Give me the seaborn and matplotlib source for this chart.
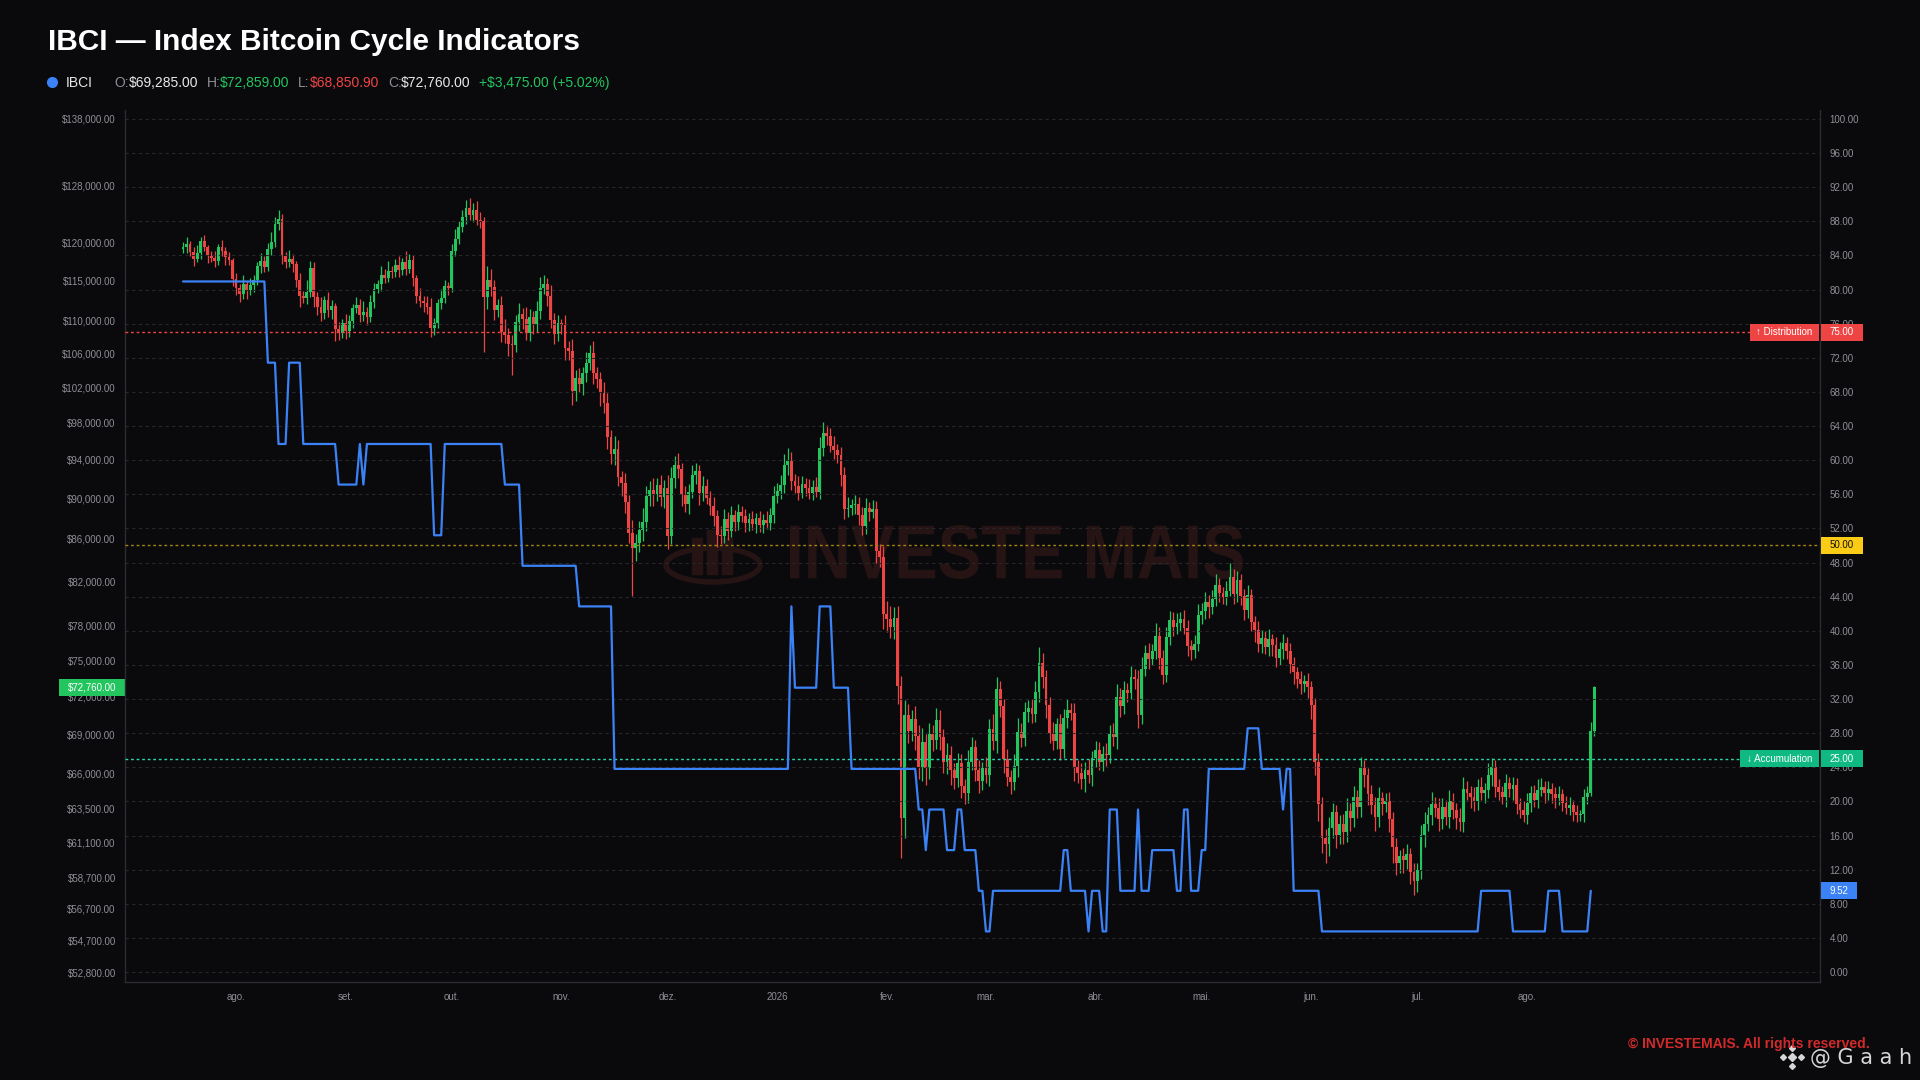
# IBCI chart - BTC candles + IBCI step line
import numpy as np
import pandas as pd
import matplotlib
matplotlib.use('Agg')
import matplotlib.pyplot as plt
import matplotlib.dates as mdates
from matplotlib.patches import Rectangle, Ellipse, PathPatch
from matplotlib.lines import Line2D
from matplotlib.textpath import TextPath
from matplotlib.font_manager import FontProperties
from matplotlib.transforms import blended_transform_factory, Affine2D
from matplotlib.ticker import FixedLocator, FixedFormatter, FuncFormatter, NullLocator
import seaborn as sns

# ---------------- data ----------------
start_date = '2025-07-17'
first_open = 119.2  # $k

# daily closes, $k
closes = [
    119.5, 119.9, 118.8, 117.8, 118.6, 120.3, 119.4, 118.3, 118.0, 117.6,
    119.4, 118.9, 118.1, 117.7, 115.2, 114.0, 113.3, 114.6, 113.8, 114.4,
    115.1, 116.9, 117.6, 116.8, 119.2, 120.1, 122.6, 123.3, 118.3, 117.4,
    117.9, 117.2, 115.1, 113.0, 112.8, 113.5, 116.6, 112.9, 111.6, 110.9,
    112.5, 111.3, 111.8, 108.9, 108.4, 109.6, 108.7, 109.9, 111.5, 111.9,
    110.6, 111.0, 110.4, 112.3, 113.9, 114.6, 115.8, 115.4, 116.3, 116.1,
    117.0, 116.4, 117.4, 116.5, 117.7, 115.3, 113.0, 112.4, 112.1, 111.6,
    109.1, 109.6, 112.2, 112.8, 114.3, 114.1, 118.9, 120.6, 122.2, 123.5,
    124.8, 123.9, 124.6, 123.2, 123.0, 112.9, 115.1, 114.2, 111.3, 111.9,
    108.5, 108.2, 107.1, 107.0, 109.8, 110.8, 110.2, 108.4, 110.4, 109.5,
    111.2, 114.1, 114.6, 113.1, 110.0, 108.3, 109.6, 109.4, 106.6, 106.2,
    101.6, 103.1, 102.4, 103.6, 104.8, 106.0, 103.6, 102.9, 101.4, 100.2,
    96.4, 94.6, 95.2, 92.2, 91.6, 89.6, 86.6, 85.1, 85.6, 86.9,
    87.6, 90.2, 90.9, 90.4, 91.4, 90.1, 91.1, 86.3, 92.1, 93.5,
    93.0, 90.3, 89.4, 90.7, 92.4, 92.8, 90.5, 91.3, 90.0, 89.2,
    88.2, 86.4, 86.3, 87.9, 86.8, 88.3, 87.6, 88.6, 88.2, 87.5,
    87.9, 87.4, 88.0, 87.3, 87.8, 87.5, 88.3, 90.2, 90.8, 91.4,
    93.4, 93.9, 91.8, 91.3, 90.6, 91.5, 91.1, 90.6, 91.2, 90.7,
    95.3, 96.9, 96.6, 95.5, 95.0, 94.5, 92.4, 88.9, 89.0, 89.3,
    89.4, 88.3, 87.2, 89.0, 88.6, 88.9, 84.8, 84.3, 79.0, 78.6,
    77.9, 78.7, 72.9, 62.8, 70.5, 69.3, 70.2, 68.9, 66.5, 68.4,
    66.4, 69.0, 68.6, 70.1, 68.8, 66.9, 67.4, 66.3, 65.7, 66.8,
    65.1, 64.6, 66.9, 68.0, 66.3, 65.5, 66.4, 65.9, 69.4, 68.5,
    72.6, 71.2, 67.1, 65.8, 65.4, 66.6, 69.2, 68.7, 70.8, 71.1,
    70.6, 72.4, 74.8, 73.6, 71.3, 69.1, 68.5, 69.8, 67.9, 70.3,
    70.9, 70.7, 66.5, 66.1, 65.6, 66.3, 65.9, 67.2, 67.8, 66.9,
    67.5, 67.4, 69.0, 68.8, 72.0, 71.2, 72.5, 72.3, 73.6, 73.4,
    70.5, 74.3, 75.6, 75.1, 75.8, 77.1, 75.2, 73.8, 77.0, 78.5,
    77.9, 78.2, 78.6, 77.8, 76.2, 75.9, 76.4, 78.9, 79.3, 80.1,
    79.6, 80.4, 81.6, 80.9, 80.5, 81.1, 82.4, 80.8, 82.1, 80.6,
    79.4, 80.7, 78.3, 77.6, 76.4, 76.9, 76.1, 76.8, 76.3, 75.2,
    76.0, 76.5, 75.8, 74.7, 74.0, 73.4, 73.0, 73.3, 72.8, 71.3,
    66.9, 63.8, 61.4, 61.0, 62.1, 63.2, 61.6, 62.4, 61.8, 63.3,
    62.8, 64.3, 63.6, 66.4, 65.9, 64.5, 63.7, 62.9, 64.2, 63.8,
    64.0, 62.7, 60.8, 59.7, 60.2, 59.9, 60.3, 59.1, 58.5, 59.2,
    61.6, 62.4, 63.0, 63.8, 63.5, 62.7, 63.6, 62.9, 64.0, 63.4,
    62.8, 62.5, 64.9, 64.6, 64.3, 64.0, 65.0, 64.6, 64.8, 65.9,
    66.5, 65.0, 64.7, 64.3, 65.3, 64.9, 65.2, 63.8, 63.4, 63.0,
    63.9, 64.6, 64.1, 64.8, 65.0, 64.6, 64.9, 64.5, 64.2, 64.5,
    63.9, 63.5, 63.7, 63.2, 63.0, 63.1, 64.3, 64.6, 69.285, 72.76,
]

# wick above the body / below the body, $k
upper_wicks = [
    0.6, 0.9, 0.4, 0.7, 1.1, 0.5, 0.8, 0.3, 0.6, 0.9, 0.4, 1.0, 0.5, 0.7, 0.3, 0.8, 0.6, 1.2, 0.4, 0.9,
    0.7, 0.5, 1.0, 0.6, 0.8, 1.4, 0.9, 1.2, 0.7, 0.5, 1.1, 0.6, 0.4, 0.9, 0.7, 1.6, 1.0, 0.8, 0.6, 1.3,
    0.5, 1.1, 0.7, 0.4, 0.9, 0.6, 1.2, 0.8, 0.5, 1.0, 0.7, 1.4, 0.6, 0.9, 0.8, 0.5, 1.1, 0.7, 1.3, 0.6,
    0.9, 1.2, 0.6, 1.5, 0.8, 0.7, 0.5, 1.0, 0.6, 0.9, 1.2, 0.7, 0.5, 1.1, 0.8, 0.6, 0.9, 1.3, 0.8, 1.0,
    1.1, 1.5, 0.9, 1.2, 1.1, 0.6, 1.8, 1.4, 0.9, 0.7, 1.2, 1.6, 0.8, 1.1, 0.9, 1.3, 0.7, 1.5, 1.0, 0.8,
    1.2, 1.4, 1.1, 0.7, 1.3, 0.9, 1.0, 0.6, 1.2, 0.8, 1.5, 0.9, 1.1, 0.7, 1.3, 1.0, 1.4, 0.8, 0.9, 1.2,
    1.1, 0.8, 1.3, 0.9, 0.6, 1.0, 0.7, 1.2, 0.9, 0.8, 1.4, 1.1, 0.9, 1.2, 0.7, 1.0, 0.8, 1.3, 1.1, 0.9,
    1.2, 0.7, 1.0, 0.8, 1.1, 0.9, 0.6, 1.0, 0.7, 0.8, 0.9, 0.6, 0.8, 1.0, 0.7, 0.9, 0.5, 0.8, 0.6, 0.7,
    0.6, 0.8, 0.5, 0.7, 0.6, 0.9, 0.7, 1.1, 0.8, 1.0, 1.2, 1.4, 0.9, 0.7, 1.0, 0.8, 0.6, 0.9, 0.7, 1.0,
    1.1, 1.2, 0.9, 0.8, 1.0, 0.7, 0.9, 0.8, 1.1, 0.6, 0.9, 0.7, 0.8, 1.0, 0.6, 0.9, 0.8, 0.7, 1.0, 1.2,
    1.1, 0.9, 1.0, 0.8, 1.2, 0.9, 0.7, 1.0, 0.8, 1.1, 0.6, 0.9, 0.7, 1.0, 0.8, 0.6, 0.9, 0.7, 0.5, 0.8,
    0.7, 0.5, 0.9, 0.8, 0.6, 0.7, 0.5, 0.9, 0.8, 1.2, 1.0, 0.7, 0.6, 0.8, 0.5, 0.9, 1.1, 0.7, 0.8, 0.6,
    0.7, 0.9, 1.3, 0.8, 0.6, 0.7, 0.9, 0.5, 0.8, 0.7, 0.9, 0.6, 0.8, 0.5, 0.7, 0.6, 0.8, 0.5, 0.7, 0.6,
    0.6, 0.8, 0.7, 0.9, 1.0, 0.7, 0.8, 0.6, 0.9, 0.7, 0.8, 1.0, 0.7, 0.9, 0.6, 1.1, 0.8, 0.7, 0.9, 0.8,
    0.7, 0.9, 0.6, 0.8, 0.7, 0.5, 0.8, 1.0, 0.7, 0.9, 0.6, 0.8, 1.1, 0.7, 0.6, 0.9, 1.3, 0.7, 0.8, 0.6,
    0.7, 0.9, 0.6, 0.5, 0.8, 0.7, 0.6, 0.9, 0.5, 0.7, 0.6, 0.8, 0.5, 0.7, 0.6, 0.4, 0.7, 0.5, 0.6, 0.5,
    0.6, 0.7, 0.5, 0.6, 0.8, 0.7, 0.5, 0.6, 0.7, 0.9, 0.6, 0.8, 0.5, 0.9, 0.6, 0.5, 0.7, 0.6, 0.8, 0.5,
    0.6, 0.7, 0.5, 0.6, 0.4, 0.5, 0.7, 0.4, 0.6, 0.5, 0.7, 0.8, 0.6, 0.9, 0.5, 0.7, 0.6, 0.5, 0.8, 0.6,
    0.5, 0.7, 0.9, 0.6, 0.5, 0.7, 0.6, 0.8, 0.5, 0.9, 0.7, 0.5, 0.6, 0.4, 0.7, 0.5, 0.6, 0.5, 0.4, 0.6,
    0.7, 0.5, 0.6, 0.8, 0.7, 0.5, 0.6, 0.4, 0.5, 0.6, 0.4, 0.5, 0.6, 0.4, 0.5, 0.3, 0.6, 0.5, 0.7, 0.099,
]
lower_wicks = [
    0.5, 0.8, 0.6, 0.9, 0.4, 0.7, 0.5, 1.0, 0.6, 0.8, 0.5, 0.7, 1.1, 0.6, 0.9, 0.8, 1.0, 0.7, 1.2, 0.6,
    0.8, 0.6, 0.9, 0.7, 0.5, 0.8, 0.6, 0.9, 1.1, 0.8, 0.6, 1.0, 0.9, 1.3, 0.7, 0.8, 0.6, 1.2, 0.9, 1.0,
    0.7, 0.9, 1.1, 1.4, 0.8, 0.6, 1.0, 0.7, 0.9, 0.6, 0.8, 0.7, 1.0, 0.6, 0.8, 0.5, 0.9, 0.7, 0.6, 0.8,
    0.6, 0.9, 0.7, 0.8, 0.5, 1.0, 0.9, 0.7, 1.1, 0.8, 1.2, 0.9, 0.6, 0.8, 0.7, 0.9, 0.5, 0.6, 0.8, 0.7,
    0.9, 0.7, 1.0, 0.8, 0.9, 6.8, 1.5, 1.1, 1.3, 0.9, 1.2, 1.0, 1.4, 3.6, 0.9, 1.1, 1.3, 0.8, 1.0, 1.2,
    0.9, 1.1, 0.8, 1.3, 1.0, 1.2, 0.9, 1.1, 1.4, 1.0, 1.6, 1.2, 0.9, 1.3, 1.0, 0.8, 1.2, 1.0, 1.5, 1.1,
    1.3, 1.0, 1.2, 0.9, 1.4, 1.1, 1.0, 4.5, 1.2, 0.9, 1.1, 0.8, 1.0, 1.2, 0.7, 0.9, 1.1, 1.3, 0.8, 1.0,
    0.9, 1.1, 0.8, 1.0, 0.7, 0.9, 1.2, 0.8, 0.6, 0.9, 1.0, 1.2, 0.8, 0.7, 0.9, 0.6, 0.8, 0.7, 0.6, 0.8,
    0.7, 0.5, 0.8, 0.6, 0.7, 0.5, 0.6, 0.8, 0.7, 0.9, 0.8, 1.0, 0.9, 0.7, 0.8, 0.6, 0.9, 0.7, 0.8, 0.6,
    0.8, 0.9, 1.0, 0.7, 0.9, 0.8, 1.1, 1.0, 0.8, 0.7, 0.9, 1.0, 0.8, 0.7, 0.9, 0.6, 1.1, 1.0, 1.3, 1.2,
    1.0, 1.1, 1.5, 2.8, 1.4, 1.0, 0.8, 1.1, 0.9, 1.0, 1.2, 0.8, 0.9, 0.7, 1.0, 0.8, 0.9, 1.1, 0.8, 0.7,
    0.9, 0.8, 0.7, 0.6, 0.8, 0.9, 0.7, 0.6, 0.8, 0.7, 0.9, 0.8, 1.0, 0.7, 0.9, 0.6, 0.8, 0.7, 0.6, 0.8,
    0.7, 0.6, 0.8, 0.9, 1.0, 0.8, 0.7, 0.6, 0.9, 0.7, 0.8, 0.6, 1.0, 0.8, 0.7, 0.9, 0.6, 0.8, 0.7, 0.6,
    0.7, 0.8, 0.6, 0.7, 0.9, 0.8, 0.6, 0.7, 0.5, 0.8, 1.0, 0.7, 0.6, 0.8, 0.5, 0.7, 0.9, 0.8, 0.6, 0.7,
    0.8, 0.6, 0.7, 0.5, 0.8, 0.9, 0.7, 0.6, 0.8, 0.7, 0.9, 0.6, 0.7, 0.8, 0.6, 0.7, 0.5, 0.9, 0.7, 0.8,
    0.9, 0.7, 0.8, 1.0, 0.7, 0.8, 0.6, 0.7, 0.9, 0.8, 0.6, 0.9, 0.7, 0.8, 1.0, 0.7, 0.8, 0.6, 0.9, 1.1,
    1.0, 1.2, 1.0, 1.3, 0.8, 0.7, 0.9, 0.6, 0.8, 0.7, 0.9, 0.6, 0.8, 0.7, 0.9, 0.8, 0.6, 1.0, 0.7, 0.8,
    0.6, 0.9, 1.1, 0.8, 0.7, 0.9, 0.6, 0.8, 0.9, 0.7, 0.6, 0.8, 0.5, 0.7, 0.6, 0.8, 0.7, 0.6, 0.8, 0.7,
    0.8, 0.6, 0.7, 0.5, 0.8, 0.7, 0.6, 0.5, 0.7, 0.6, 0.8, 0.7, 0.6, 0.5, 0.7, 0.6, 0.8, 0.7, 0.6, 0.5,
    0.6, 0.7, 0.5, 0.6, 0.4, 0.7, 0.5, 0.6, 0.7, 0.5, 0.6, 0.4, 0.5, 0.6, 0.5, 0.4, 0.6, 0.5, 0.2, 0.4341,
]

# IBCI index: level and how many days it stayed there
ibci_levels = [80.95, 71.43, 61.90, 71.43, 61.90, 57.14, 61.90, 57.14, 61.90, 51.20,
               61.90, 57.14, 47.62, 42.86, 23.81, 42.86, 33.33, 42.86, 33.33, 23.81,
               19.05, 14.29, 19.05, 14.29, 19.05, 14.29, 9.52, 4.76, 9.52, 14.29,
               9.52, 4.76, 9.52, 4.76, 19.05, 9.52, 19.05, 9.52, 14.29, 9.52,
               19.05, 9.52, 14.29, 23.81, 28.57, 23.81, 19.05, 23.81, 9.52, 4.76,
               9.52, 4.76, 9.52, 4.76, 9.52]
ibci_days = [24, 3, 3, 4, 10, 6, 1, 1, 19, 3,
             17, 5, 16, 10, 50, 1, 7, 4, 5, 19,
             2, 1, 5, 3, 2, 4, 2, 2, 20, 2,
             5, 1, 3, 2, 3, 5, 1, 3, 7, 2,
             2, 3, 2, 11, 4, 6, 1, 2, 8, 45,
             9, 10, 4, 8, 1]

zone_levels = [75, 50, 25]
zone_names = ['\u2191 Distribution', None, '\u2193 Accumulation']

price_ticks = [52800, 54700, 56700, 58700, 61100, 63500, 66000, 69000, 72000, 75000,
               78000, 82000, 86000, 90000, 94000, 98000, 102000, 106000, 110000,
               115000, 120000, 128000, 138000]
ibci_ticks = list(range(0, 101, 4))
month_ticks = ['2025-08-01', '2025-09-01', '2025-10-01', '2025-11-01', '2025-12-01',
               '2026-01-01', '2026-02-01', '2026-03-01', '2026-04-01', '2026-05-01',
               '2026-06-01', '2026-07-01', '2026-08-01']
month_labels = ['ago.', 'set.', 'out.', 'nov.', 'dez.', '2026', 'fev.', 'mar.',
                'abr.', 'mai.', 'jun.', 'jul.', 'ago.']

assert len(closes) == len(upper_wicks) == len(lower_wicks)
assert len(ibci_levels) == len(ibci_days)

# ---------------- build frames ----------------
n = len(closes)
dates = pd.date_range(start_date, periods=n, freq='D')
df = pd.DataFrame({'date': dates, 'close': closes})
df['open'] = [first_open] + closes[:-1]
df['high'] = df[['open', 'close']].max(axis=1) + upper_wicks
df['low'] = df[['open', 'close']].min(axis=1) - lower_wicks
df[['open', 'close', 'high', 'low']] *= 1000
df['x'] = mdates.date2num(df['date'])

ibci = np.repeat(ibci_levels, ibci_days)
ibci_df = pd.DataFrame({'x': df['x'].values[:len(ibci)], 'ibci': ibci})

# ---------------- style ----------------
BG = '#0a0a0d'
GRID = '#27272c'
SPINE = '#2c2c31'
TICK = '#8e8e96'
GREEN = '#22c55e'
RED = '#ef4444'
BLUE = '#3b82f6'

sns.set_theme(style='dark', rc={'axes.facecolor': BG, 'figure.facecolor': BG,
                                'savefig.facecolor': BG})
plt.rcParams['font.family'] = ['Liberation Sans', 'DejaVu Sans']

fig = plt.figure(figsize=(19.2, 10.8), dpi=100)
W, H = 1920, 1080
def fx(px): return px / W
def fy(py): return 1 - py / H

ax = fig.add_axes([fx(125), fy(982), fx(1820) - fx(125), fy(110) - fy(982)])
axp = ax.twinx()
ax.set_zorder(2)
ax.patch.set_visible(False)
axp.set_zorder(1)
axp.patch.set_visible(True)
axp.patch.set_facecolor(BG)

x0 = df['x'].iloc[0]
ax.set_xlim(x0 - 16.4, x0 + 462.8)

# ---------------- candles (price axis, left) ----------------
axp.set_yscale('log')
up = df['close'] >= df['open']
colors = np.where(up, GREEN, RED)
axp.vlines(df['x'], df['low'], df['high'], colors=colors, linewidth=0.9, zorder=3)
axp.bar(df['x'], (df['close'] - df['open']).abs(), bottom=df[['open', 'close']].min(axis=1),
        width=0.8, color=colors, linewidth=0, zorder=4)
axp.set_ylim(52209, 139380)
axp.yaxis.tick_left()
axp.yaxis.set_major_locator(FixedLocator(price_ticks))
axp.yaxis.set_minor_locator(NullLocator())
axp.yaxis.set_major_formatter(FuncFormatter(lambda v, p: f'${v:,.2f}'))
axp.tick_params(axis='y', length=0, labelsize=7, labelcolor=TICK, pad=6.7)
for s in axp.spines.values():
    s.set_visible(False)

# watermark (text squeezed into the box it takes in the reference)
wm_color = '#261314'
tp = TextPath((0, 0), 'INVESTE MAIS', size=100,
              prop=FontProperties(family='Liberation Sans', weight='bold'))
bb = tp.get_extents()
wm_x0, wm_x1, wm_top, wm_bot = 790, 1243, 525, 579
wm_tr = (Affine2D().translate(-bb.x0, -bb.y0)
         .scale((wm_x1 - wm_x0) / bb.width / W, (wm_bot - wm_top) / bb.height / H)
         .translate(wm_x0 / W, 1 - wm_bot / H))
axp.add_patch(PathPatch(wm_tr.transform_path(tp), transform=fig.transFigure,
                        facecolor=wm_color, edgecolor='none', zorder=1, clip_on=False))
axp.add_patch(Ellipse((fx(713), fy(565)), fx(94), 34 / H, transform=fig.transFigure,
                      fill=False, edgecolor=wm_color, linewidth=4, zorder=1, clip_on=False))
for bx, top in [(692, 538), (707, 530), (722, 538)]:
    axp.add_patch(Rectangle((fx(bx), fy(574)), fx(10), (574 - top) / H,
                            transform=fig.transFigure, color=wm_color, zorder=1,
                            clip_on=False))

# ---------------- IBCI (right axis) ----------------
sns.lineplot(data=ibci_df, x='x', y='ibci', ax=ax, color=BLUE, linewidth=1.6, zorder=5)
ax.set_ylim(-1.17, 101.05)
ax.yaxis.tick_right()
ax.yaxis.set_label_position('right')
ax.set_yticks(ibci_ticks)
ax.yaxis.set_major_formatter(FuncFormatter(lambda v, p: f'{v:.2f}'))
ax.tick_params(axis='y', length=0, labelsize=7, labelcolor=TICK, pad=7)
ax.grid(axis='y', color=GRID, linestyle=(0, (3, 3)), linewidth=0.8)
ax.grid(axis='x', visible=False)
ax.set_xlabel('')
ax.set_ylabel('')

ax.xaxis.set_major_locator(FixedLocator(mdates.date2num(pd.to_datetime(month_ticks))))
ax.xaxis.set_major_formatter(FixedFormatter(month_labels))
ax.tick_params(axis='x', length=0, labelsize=7, labelcolor=TICK, pad=7)

for name, s in ax.spines.items():
    s.set_visible(name != 'top')
    s.set_color(SPINE)
    s.set_linewidth(1.0)

zone_line_colors = [RED, '#a3840f', '#2dd4a7']
zone_tag_colors = [RED, '#facc15', '#10b981']
zone_text_colors = ['white', '#111111', 'white']
for lvl, c in zip(zone_levels, zone_line_colors):
    ax.axhline(lvl, color=c, linestyle=(0, (2, 2)), linewidth=1.0, zorder=4)

tr_ibci = blended_transform_factory(ax.transAxes, ax.transData)
tr_price = blended_transform_factory(axp.transAxes, axp.transData)

def tag(axis, tr, xa, xb, ya, yb, yc, color, text, tcolor):
    axis.add_patch(Rectangle((xa, ya), xb - xa, yb - ya, transform=tr, facecolor=color,
                             edgecolor='none', clip_on=False, zorder=20))
    axis.text((xa + xb) / 2, yc, text, transform=tr, ha='center', va='center',
              fontsize=7, color=tcolor, zorder=21, clip_on=False)

ibci_half = 8.5 / 8.53
for lvl, name, bg, tc in zip(zone_levels, zone_names, zone_tag_colors, zone_text_colors):
    tag(ax, tr_ibci, 1.0006, 1.0254, lvl - ibci_half, lvl + ibci_half, lvl, bg,
        f'{lvl:.2f}', tc)
    if name:
        left = 0.9587 if 'Distr' in name else 0.9528
        tag(ax, tr_ibci, left, 0.9994, lvl - ibci_half, lvl + ibci_half, lvl, bg, name, 'white')

last_ibci = ibci[-1]
tag(ax, tr_ibci, 1.0006, 1.0218, last_ibci - ibci_half, last_ibci + ibci_half, last_ibci,
    BLUE, f'{last_ibci:.2f}', 'white')

last_close = df['close'].iloc[-1]
k = np.exp(8.5 / 888)
tag(axp, tr_price, -0.0389, 0.0, last_close / k, last_close * k, last_close, GREEN,
    f'${last_close:,.2f}', 'white')

# ---------------- header ----------------
fig.text(fx(48), fy(50), 'IBCI \u2014 Index Bitcoin Cycle Indicators', fontsize=21.5,
         fontweight='bold', color='white', va='baseline')
fig.add_artist(Line2D([fx(52)], [fy(82)], marker='o', markersize=7, color=BLUE,
                      transform=fig.transFigure))
last = df.iloc[-1]
chg = last['close'] - last['open']
pct = chg / last['open'] * 100
hdr = [('IBCI', 66, '#e8e8e8'),
       ('O:', 114, TICK), (f"${last['open']:,.2f}", 129, '#e8e8e8'),
       ('H:', 207, TICK), (f"${last['high']:,.2f}", 220, GREEN),
       ('L:', 298, TICK), (f"${last['low']:,.2f}", 310, RED),
       ('C:', 388, TICK), (f"${last['close']:,.2f}", 401, '#e8e8e8'),
       (f'+${chg:,.2f} (+{pct:.2f}%)', 479, GREEN)]
for txt, px, col in hdr:
    fig.text(fx(px), fy(87), txt, fontsize=10, color=col, va='baseline')

# ---------------- footer ----------------
fig.text(fx(1628), fy(1048), '\u00a9 INVESTEMAIS. All rights reserved.', fontsize=10,
         fontweight='bold', color='#d22a2a', va='baseline')
logo_c = '#d6d6d6'
fig.add_artist(Line2D([fx(1792)], [fy(1057)], marker='D', markersize=4.5, color=logo_c,
                      transform=fig.transFigure))
for dx, dy in [(-9, 0), (9, 0), (0, -9), (0, 9)]:
    fig.add_artist(Line2D([fx(1792 + dx)], [fy(1057 + dy)], marker='D', markersize=3,
                          color=logo_c, transform=fig.transFigure))
fig.text(fx(1810), fy(1064), '@ G a a h', fontsize=15, color=logo_c, va='baseline',
         family=['DejaVu Sans'])

plt.savefig('out.png', dpi=100, facecolor=BG)
